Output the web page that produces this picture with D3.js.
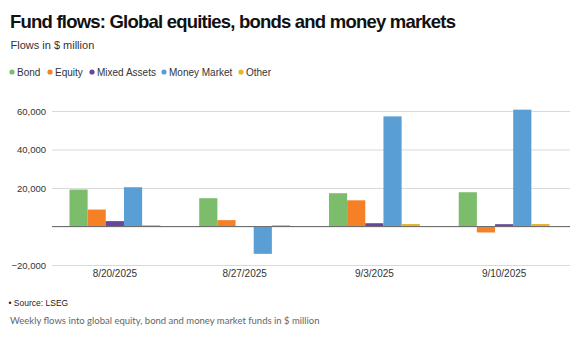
<!DOCTYPE html>
<html>
<head>
<meta charset="utf-8">
<script src="https://cdn.jsdelivr.net/npm/d3@7"></script>
<style>
  html, body { margin: 0; padding: 0; background: #fff; }
  svg { display: block; }
</style>
</head>
<body>
<script>
// Weekly fund flows, $ million
const weeks = ["8/20/2025", "8/27/2025", "9/3/2025", "9/10/2025"];
const seriesNames = ["Bond", "Equity", "Mixed Assets", "Money Market", "Other"];
const bond = [19200, 14700, 17300, 17800];
const equity = [8800, 3300, 13600, -3100];
const mixedAssets = [2800, 0, 1700, 1200];
const moneyMarket = [20400, -14200, 57200, 60700];
const other = [700, 700, 1300, 1300];
const yTicks = [-20000, 0, 20000, 40000, 60000];
const colors = ["#7cbd6b", "#f68026", "#65479b", "#599ed5", "#e9b52c"];

const seriesValues = [bond, equity, mixedAssets, moneyMarket, other];
const rows = weeks.map((w, i) => ({
  week: w,
  values: seriesNames.map((s, j) => ({ series: s, value: seriesValues[j][i] }))
}));

const W = 584, H = 340;
const svg = d3.select("body").append("svg").attr("width", W).attr("height", H);
const font = "'Liberation Sans', Arial, Helvetica, sans-serif";

// Titles
svg.append("text").attr("x", 10).attr("y", 27.5)
  .attr("font-family", font).attr("font-weight", "bold").attr("font-size", 18.5)
  .attr("textLength", 446).attr("lengthAdjust", "spacing")
  .attr("fill", "#111").text("Fund flows: Global equities, bonds and money markets");
svg.append("text").attr("x", 10.5).attr("y", 49)
  .attr("font-family", font).attr("font-size", 11)
  .attr("fill", "#333").text("Flows in $ million");

// Legend
const legendX = [12, 50, 92, 164, 241];
const legend = svg.append("g");
seriesNames.forEach((s, i) => {
  legend.append("circle").attr("cx", legendX[i]).attr("cy", 72).attr("r", 2.6).attr("fill", colors[i]);
  legend.append("text").attr("x", legendX[i] + 5).attr("y", 75.5)
    .attr("font-family", font).attr("font-size", 10).attr("fill", "#333").text(s);
});

// Plot area
const plotLeft = 52, plotRight = 570;
const x0 = d3.scaleBand().domain(weeks).range([50, 569]).paddingInner(0.3).paddingOuter(0.15);
const x1 = d3.scaleBand().domain(seriesNames).range([0, x0.bandwidth()]);
const y = d3.scaleLinear().domain([-20000, 60000]).range([265, 111]);
const color = d3.scaleOrdinal().domain(seriesNames).range(colors);

// Gridlines + y labels
const yAxis = d3.axisLeft(y).tickValues(yTicks).tickSize(-(plotRight - plotLeft))
  .tickFormat(d => d === 0 ? "" : d3.format(",")(d).replace("-", "\u2212"));
const gy = svg.append("g").attr("transform", `translate(${plotLeft},0)`).call(yAxis);
gy.select(".domain").remove();
gy.selectAll(".tick line").attr("stroke", "#d9d9d9").attr("stroke-width", 1);
gy.selectAll(".tick text").attr("x", -6).attr("font-family", font).attr("font-size", 9.5).attr("fill", "#333");

// Bars
const groups = svg.append("g").selectAll("g").data(rows).join("g")
  .attr("transform", d => `translate(${x0(d.week)},0)`);
groups.selectAll("rect").data(d => d.values).join("rect")
  .attr("x", d => x1(d.series))
  .attr("width", x1.bandwidth())
  .attr("y", d => y(Math.max(0, d.value)))
  .attr("height", d => Math.abs(y(d.value) - y(0)))
  .attr("fill", d => color(d.series));

// Zero line
svg.append("line").attr("x1", plotLeft).attr("x2", plotRight)
  .attr("y1", y(0)).attr("y2", y(0)).attr("stroke", "#6e6e6e").attr("stroke-width", 1);

// X axis labels
const xAxis = d3.axisBottom(x0).tickSize(0);
const gx = svg.append("g").attr("transform", `translate(0,265)`).call(xAxis);
gx.select(".domain").remove();
gx.selectAll(".tick text").attr("dy", "0.71em").attr("y", 5)
  .attr("font-family", font).attr("font-size", 10).attr("fill", "#333");

// Footer
svg.append("text").attr("x", 8.5).attr("y", 306)
  .attr("font-family", font).attr("font-size", 8.5).attr("fill", "#222").text("\u2022 Source: LSEG");
svg.append("text").attr("x", 10).attr("y", 324)
  .attr("font-family", "Lato, 'Open Sans', sans-serif").attr("font-size", 9.5).attr("fill", "#666")
  .text("Weekly flows into global equity, bond and money market funds in $ million");
</script>
</body>
</html>
